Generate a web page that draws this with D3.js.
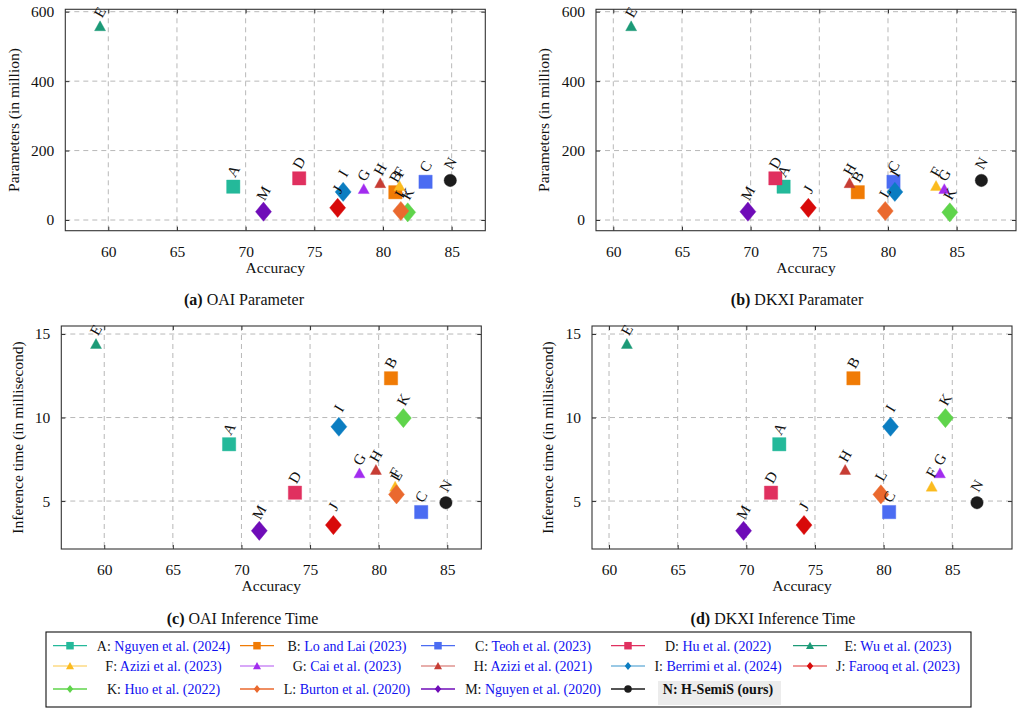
<!DOCTYPE html>
<html>
<head>
<meta charset="utf-8">
<script src="https://cdn.jsdelivr.net/npm/d3@7"></script>
<style>
  html, body { margin: 0; padding: 0; background: #fff; }
  svg { display: block; font-family: "Liberation Serif", "Times New Roman", serif; }
</style>
</head>
<body>
<svg id="chart" width="1023" height="715"></svg>
<script>
// ---------------- data ----------------
const methodLabels = ["A","B","C","D","E","F","G","H","I","J","K","L","M","N"];
const methodNames = ["Nguyen et al. (2024)","Lo and Lai (2023)","Teoh et al. (2023)","Hu et al. (2022)","Wu et al. (2023)",
                     "Azizi et al. (2023)","Cai et al. (2023)","Azizi et al. (2021)","Berrimi et al. (2024)","Farooq et al. (2023)",
                     "Huo et al. (2022)","Burton et al. (2020)","Nguyen et al. (2020)","H-SemiS (ours)"];
const markerShapes = ["square","square","square","square","triangle","triangle","triangle","triangle",
                      "diamond","diamond","diamond","diamond","diamond","circle"];
const markerColors = ["#24b99a","#f07b05","#4b6cf2","#e0305f","#1c9a77","#fbbb1f","#a22cef","#c73d34",
                      "#0b7dc1","#d80a0a","#5fd44b","#ea692e","#6f0cb8","#1c1c1c"];
const legendLineOpacity = [1,1,1,1,1,0.55,0.55,0.55,0.55,0.55,1,1,1,1];

const oaiAccuracy  = [69.1, 80.9, 83.1, 73.9, 59.4, 81.2, 78.6, 79.8, 77.1, 76.7, 81.8, 81.3, 71.3, 84.9];
const dkxiAccuracy = [72.4, 77.8, 80.4, 71.8, 61.3, 83.5, 84.1, 77.2, 80.5, 74.2, 84.5, 79.8, 69.8, 86.8];
const parameters   = [96, 80, 110, 120, 558, 98, 89, 106, 81, 35, 22, 26, 24, 114];
const inferenceTime = [8.4, 12.35, 4.34, 5.5, 14.4, 5.86, 6.66, 6.86, 9.45, 3.56, 9.97, 5.4, 3.22, 4.9];

const accuracyTicks = [60, 65, 70, 75, 80, 85];
const parameterTicks = [0, 200, 400, 600];
const timeTicks = [5, 10, 15];

const captions = [
  {tag: "(a)", text: " OAI Parameter"},
  {tag: "(b)", text: " DKXI Paramater"},
  {tag: "(c)", text: " OAI Inference Time"},
  {tag: "(d)", text: " DKXI Inference Time"}
];

// ---------------- layout ----------------
const svg = d3.select("#chart");
const FONT = 15.5;

const panels = [
  {box: {l: 65.3, r: 485.3, t: 9.3, b: 230.7}, xd: [56.87, 87.45], yd: [-30.8, 606.9],
   xs: oaiAccuracy, ys: parameters, yt: parameterTicks, ytitle: "Parameters (in million)", ytOff: 52, cap: 0, capX: 244, capY: 305},
  {box: {l: 596, r: 1016, t: 9.3, b: 230.7}, xd: [58.74, 89.32], yd: [-30.8, 606.9],
   xs: dkxiAccuracy, ys: parameters, yt: parameterTicks, ytitle: "Parameters (in million)", ytOff: 52.5, cap: 1, capX: 797, capY: 305},
  {box: {l: 61.3, r: 481.3, t: 326, b: 549}, xd: [56.87, 87.48], yd: [2.13, 15.48],
   xs: oaiAccuracy, ys: inferenceTime, yt: timeTicks, ytitle: "Inference time (in millisecond)", ytOff: 44, cap: 2, capX: 242.5, capY: 624},
  {box: {l: 592, r: 1012, t: 326, b: 549}, xd: [58.76, 89.35], yd: [2.13, 15.48],
   xs: dkxiAccuracy, ys: inferenceTime, yt: timeTicks, ytitle: "Inference time (in millisecond)", ytOff: 44.5, cap: 3, capX: 773, capY: 624}
];

function markerPath(shape, size) {
  const h = size / 2;
  if (shape === "square") return `M${-h},${-h}H${h}V${h}H${-h}Z`;
  if (shape === "triangle") { const hh = size * 0.9; return `M0,${-hh*0.55}L${h},${hh*0.45}L${-h},${hh*0.45}Z`; }
  if (shape === "diamond") { const v = size * 0.6; return `M0,${-v}L${h},0L0,${v}L${-h},0Z`; }
  return d3.symbol(d3.symbolCircle, Math.PI * h * h)();
}
const plotSize = {square: 13.3, triangle: 11, diamond: 16, circle: 12.4};
const labelOffset = {square: 15.5, triangle: 14, diamond: 18.5, circle: 17};

panels.forEach(p => {
  const {l, r, t, b} = p.box;
  const x = d3.scaleLinear().domain(p.xd).range([l, r]);
  const y = d3.scaleLinear().domain(p.yd).range([b, t]);
  const g = svg.append("g");

  // grid
  g.append("g").selectAll("line").data(accuracyTicks).join("line")
    .attr("x1", d => x(d)).attr("x2", d => x(d)).attr("y1", t).attr("y2", b)
    .attr("stroke", "#b8b8b8").attr("stroke-width", 1).attr("stroke-dasharray", "5,4");
  g.append("g").selectAll("line").data(p.yt).join("line")
    .attr("y1", d => y(d)).attr("y2", d => y(d)).attr("x1", l).attr("x2", r)
    .attr("stroke", "#b8b8b8").attr("stroke-width", 1).attr("stroke-dasharray", "5,4");

  // axes (ticks inside, both sides)
  const tickLen = 4;
  const axB = d3.axisBottom(x).tickValues(accuracyTicks).tickSize(-tickLen).tickPadding(tickLen + 11);
  const axT = d3.axisTop(x).tickValues(accuracyTicks).tickSize(-tickLen).tickFormat("");
  const axL = d3.axisLeft(y).tickValues(p.yt).tickSize(-tickLen).tickPadding(tickLen + 7);
  const axR = d3.axisRight(y).tickValues(p.yt).tickSize(-tickLen).tickFormat("");
  [[axB, `translate(0,${b})`], [axT, `translate(0,${t})`], [axL, `translate(${l},0)`], [axR, `translate(${r},0)`]]
    .forEach(([ax, tr]) => {
      const a = g.append("g").attr("transform", tr).call(ax);
      a.select(".domain").remove();
      a.selectAll(".tick line").attr("stroke", "#333").attr("stroke-width", 1);
      a.selectAll("text").attr("font-size", FONT).attr("fill", "#111")
        .attr("font-family", "Liberation Serif, serif");
    });

  // frame
  g.append("rect").attr("x", l).attr("y", t).attr("width", r - l).attr("height", b - t)
    .attr("fill", "none").attr("stroke", "#333").attr("stroke-width", 1.1);

  // axis titles
  g.append("text").attr("x", (l + r) / 2).attr("y", b + 42).attr("text-anchor", "middle")
    .attr("font-size", FONT).attr("fill", "#111").text("Accuracy");
  g.append("text").attr("transform", `translate(${l - p.ytOff},${(t + b) / 2}) rotate(-90)`)
    .attr("text-anchor", "middle").attr("dominant-baseline", "central")
    .attr("font-size", FONT).attr("fill", "#111").text(p.ytitle);

  // caption
  const c = captions[p.cap];
  const ct = g.append("text").attr("x", p.capX).attr("y", p.capY).attr("text-anchor", "middle")
    .attr("font-size", 16).attr("fill", "#111");
  ct.append("tspan").attr("font-weight", "bold").text(c.tag);
  ct.append("tspan").text(c.text);

  // points
  const idx = d3.range(methodLabels.length);
  g.append("g").selectAll("path").data(idx).join("path")
    .attr("transform", i => `translate(${x(p.xs[i])},${y(p.ys[i])})`)
    .attr("d", i => markerPath(markerShapes[i], plotSize[markerShapes[i]]))
    .attr("fill", i => markerColors[i])
    .attr("stroke", i => markerColors[i]).attr("stroke-opacity", 0.5).attr("stroke-width", 0.8);

  // rotated labels
  g.append("g").selectAll("text").data(idx).join("text")
    .attr("transform", i => `translate(${x(p.xs[i])},${y(p.ys[i]) - labelOffset[markerShapes[i]]}) rotate(-60)`)
    .attr("text-anchor", "middle").attr("dominant-baseline", "central")
    .attr("font-size", 15).attr("fill", "#111").text(i => methodLabels[i]);
});

// ---------------- legend ----------------
const legend = svg.append("g");
legend.append("rect").attr("x", 46).attr("y", 632).attr("width", 925).attr("height", 75)
  .attr("fill", "#fff").attr("stroke", "#111").attr("stroke-width", 1.1);

const colMarkerX = [70, 257, 438, 628, 810];
const colTextX = [163.5, 347, 533, 718, 898];
const rowY = [645.7, 666, 689];
const legSize = {square: 7.5, triangle: 8, diamond: 6.5, circle: 7.5};

methodLabels.forEach((lab, i) => {
  const col = i % 5, row = Math.floor(i / 5);
  const cx = colMarkerX[col], cy = rowY[row];
  legend.append("line").attr("x1", cx - 17).attr("x2", cx + 17).attr("y1", cy).attr("y2", cy)
    .attr("stroke", markerColors[i]).attr("stroke-width", 1.3).attr("stroke-opacity", legendLineOpacity[i]);
  legend.append("path").attr("transform", `translate(${cx},${cy})`)
    .attr("d", markerPath(markerShapes[i], legSize[markerShapes[i]])).attr("fill", markerColors[i]);
  if (lab === "N") {
    legend.append("rect").attr("x", 658).attr("y", 681).attr("width", 123).attr("height", 24).attr("fill", "#ececec");
    legend.append("text").attr("x", colTextX[col]).attr("y", cy + 5).attr("text-anchor", "middle")
      .attr("font-size", 14).attr("font-weight", "bold").attr("fill", "#111")
      .text(`${lab}: ${methodNames[i]}`);
  } else {
    const t = legend.append("text").attr("x", colTextX[col]).attr("y", cy + 5).attr("text-anchor", "middle")
      .attr("font-size", 14).attr("fill", "#111");
    t.append("tspan").text(`${lab}: `);
    t.append("tspan").attr("fill", "#1010f0").text(methodNames[i]);
  }
});
</script>
</body>
</html>
